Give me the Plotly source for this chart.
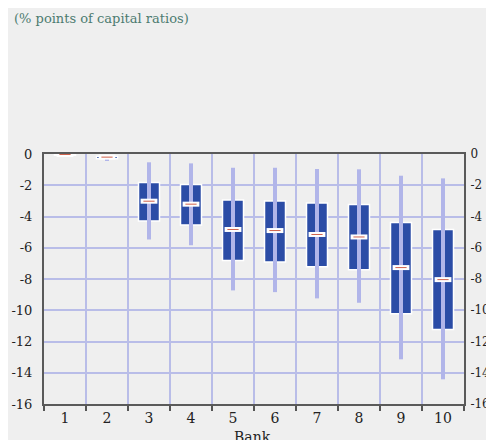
import plotly.graph_objects as go

banks = ["1", "2", "3", "4", "5", "6", "7", "8", "9", "10"]
q1 = [-0.08, -0.30, -4.28, -4.54, -6.82, -6.91, -7.21, -7.40, -10.22, -11.23]
q3 = [0.0, -0.15, -1.82, -1.95, -2.95, -3.00, -3.13, -3.23, -4.38, -4.83]
median = [-0.03, -0.20, -3.02, -3.21, -4.83, -4.90, -5.15, -5.31, -7.27, -8.04]
low = [-0.08, -0.45, -5.47, -5.84, -8.73, -8.84, -9.24, -9.52, -13.14, -14.42]
high = [0.0, -0.12, -0.53, -0.60, -0.88, -0.88, -0.96, -0.98, -1.39, -1.56]
yticks = [0, -2, -4, -6, -8, -10, -12, -14, -16]

serif = "DejaVu Serif"
bg = "#efefef"
grid = "#b9bde8"

# the page has a default 8px body margin on every side; compensate and avoid overflow
OFF = 8
W, H = 494 - 2 * OFF, 448 - 2 * OFF
ML, MT = 44 - OFF, 154 - OFF
MR = W - (464 - OFF)
MB = H - (404 - OFF)
PW, PH = W - ML - MR, H - MT - MB

fig = go.Figure()
wx, wy = [], []
for b, lo, hi in zip(banks, low, high):
    wx += [b, b, None]
    wy += [lo, hi, None]
fig.add_trace(go.Scatter(x=wx, y=wy, mode="lines",
                         line=dict(color="#b1b5e9", width=4),
                         hoverinfo="skip", showlegend=False))
fig.add_trace(go.Bar(x=banks, y=[a - b for a, b in zip(q3, q1)], base=q1,
                     width=0.5, marker=dict(color="#2b4ca6",
                                            line=dict(color="white", width=1.5)),
                     showlegend=False))
fig.add_trace(go.Scatter(x=banks, y=median, mode="markers",
                         marker=dict(symbol="line-ew", size=12,
                                     line=dict(color="white", width=5)),
                         showlegend=False))
fig.add_trace(go.Scatter(x=banks, y=median, mode="markers",
                         marker=dict(symbol="line-ew", size=8,
                                     line=dict(color="#d0604a", width=1)),
                         showlegend=False))
fig.add_trace(go.Scatter(x=banks, y=median, yaxis="y2", mode="markers",
                         marker=dict(opacity=0), hoverinfo="skip",
                         showlegend=False))

fig.update_layout(
    width=W, height=H,
    paper_bgcolor=bg, plot_bgcolor=bg,
    margin=dict(l=ML, r=MR, t=MT, b=MB, autoexpand=False),
    barmode="overlay",
    font=dict(family=serif, size=13, color="#222"),
    xaxis=dict(type="category", tickson="boundaries", ticks="outside",
               ticklen=5, tickcolor="#555", tickwidth=1.5,
               showgrid=True, gridcolor=grid, gridwidth=1.5,
               showline=True, linecolor="#5a5a5a", linewidth=2, mirror=True,
               automargin=False,
               tickfont=dict(family=serif, size=14), range=[-0.5, 9.5]),
    yaxis=dict(range=[-16, 0], tickvals=yticks, ticktext=[str(v) for v in yticks],
               showgrid=True, gridcolor=grid, gridwidth=1.5, zeroline=False,
               showline=True, linecolor="#5a5a5a", linewidth=2, automargin=False,
               ticks="", ticklabelstandoff=7, tickfont=dict(family=serif, size=13)),
    yaxis2=dict(range=[-16, 0], tickvals=yticks, ticktext=[str(v) for v in yticks],
                overlaying="y", side="right", showgrid=False, zeroline=False,
                showline=True, linecolor="#5a5a5a", linewidth=2, automargin=False,
                ticks="", ticklabelstandoff=2, tickfont=dict(family=serif, size=12)),
    annotations=[
        dict(text="(% points of capital ratios)", xref="paper", yref="paper",
             x=(12 - OFF - ML) / PW, y=1 + (MT - (18 - OFF)) / PH,
             xanchor="left", yanchor="middle", showarrow=False,
             font=dict(family=serif, size=13, color="#4c7b70")),
        dict(text="Bank", xref="paper", yref="paper",
             x=(252 - OFF - ML) / PW, y=-(437 - OFF - (MT + PH)) / PH,
             xanchor="center", yanchor="middle", showarrow=False,
             font=dict(family=serif, size=14, color="#222")),
    ],
)

fig.write_html("out.html")
